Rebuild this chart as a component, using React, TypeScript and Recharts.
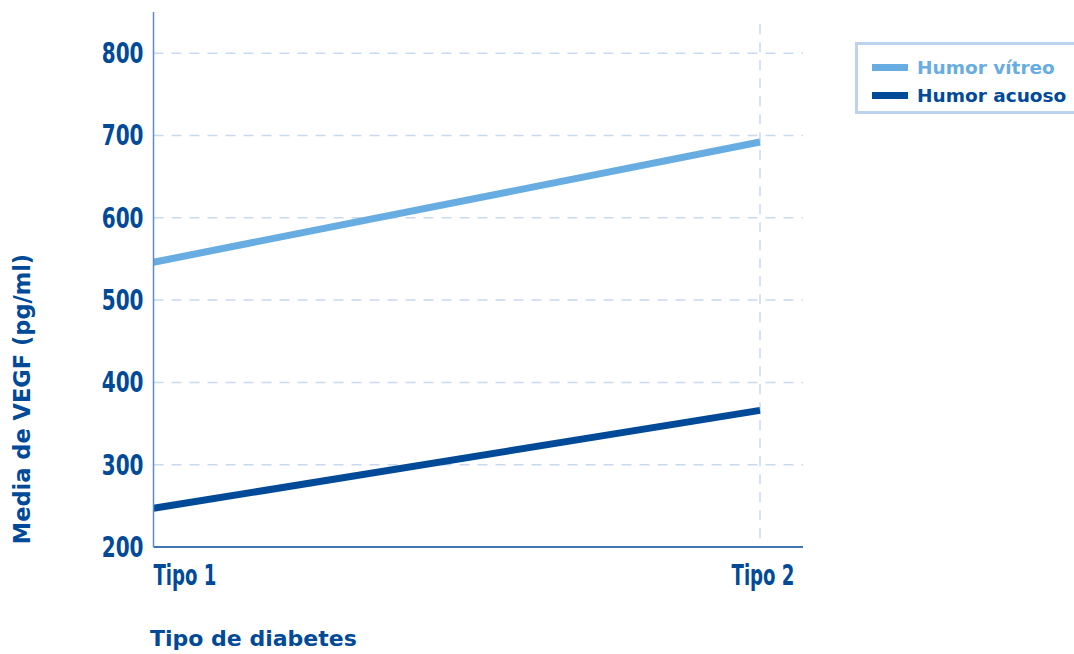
import React from 'react';
import { LineChart, Line, XAxis, YAxis, CartesianGrid, Legend, ReferenceLine } from 'recharts';

const categories = ['Tipo 1', 'Tipo 2'];
const vitreo = [546, 692];
const acuoso = [247, 366];
const yTicks = [200, 300, 400, 500, 600, 700, 800];

const data = categories.map((c, i) => ({ tipo: c, vitreo: vitreo[i], acuoso: acuoso[i] }));

const DARK = '#004a98';
const LIGHT = '#68ade1';
const GRID = '#c9d9f0';
const NARROW = '"DejaVu Sans Condensed", "DejaVu Sans", sans-serif';
const WIDE = '"DejaVu Sans", Verdana, sans-serif';
const SQUEEZE = 0.78;
const SQUEEZE_X = 0.72;

const XTick = (props: any) => {
  const { x, y, payload, index } = props;
  const first = index === 0;
  const tx = first ? x : x + 3;
  return (
    <g transform={`translate(${tx},${y + 38}) scale(${SQUEEZE_X},1)`}>
      <text
        x={0}
        y={0}
        textAnchor={first ? 'start' : 'middle'}
        fill={DARK}
        fontFamily={NARROW}
        fontWeight="bold"
        fontSize={28}
      >
        {payload.value}
      </text>
    </g>
  );
};

const YTick = (props: any) => {
  const { x, y, payload } = props;
  return (
    <g transform={`translate(${x},${y + 10}) scale(${SQUEEZE},1)`}>
      <text
        x={0}
        y={0}
        textAnchor="end"
        fill={DARK}
        fontFamily={NARROW}
        fontWeight="bold"
        fontSize={28.5}
      >
        {payload.value}
      </text>
    </g>
  );
};

const LegendContent = () => {
  const items = [
    { label: 'Humor vítreo', color: LIGHT },
    { label: 'Humor acuoso', color: DARK },
  ];
  return (
    <div
      style={{
        width: 222,
        height: 72,
        border: '3px solid #bcd2f0',
        boxSizing: 'border-box',
        paddingTop: 8,
        paddingLeft: 14,
        background: '#fff',
      }}
    >
      {items.map((it) => (
        <div key={it.label} style={{ display: 'flex', alignItems: 'center', height: 28 }}>
          <div style={{ width: 36, height: 7, background: it.color, marginRight: 9 }} />
          <span
            style={{
              color: it.color,
              fontFamily: WIDE,
              fontWeight: 'bold',
              fontSize: 18.5,
              whiteSpace: 'nowrap',
            }}
          >
            {it.label}
          </span>
        </div>
      ))}
    </div>
  );
};

export default function App() {
  return (
    <div style={{ position: 'absolute', left: 0, top: 0, width: 1074, height: 654, background: '#fff' }}>
      <LineChart
        width={1074}
        height={654}
        data={data}
        margin={{ top: 12, right: 271, bottom: 0, left: 0 }}
      >
        <CartesianGrid
          vertical={false}
          stroke={GRID}
          strokeWidth={1.5}
          strokeDasharray="10 8"
          horizontalValues={[300, 400, 500, 600, 700, 800]}
        />
        <ReferenceLine
          segment={[{ x: 'Tipo 2', y: 835 }, { x: 'Tipo 2', y: 200 }]}
          stroke={GRID}
          strokeWidth={1.5}
          strokeDasharray="10 8"
          ifOverflow="visible"
        />
        <XAxis
          dataKey="tipo"
          padding={{ left: 0, right: 43 }}
          axisLine={{ stroke: DARK, strokeWidth: 1.5 }}
          tickLine={false}
          tick={<XTick />}
          interval={0}
          tickSize={0}
          tickMargin={0}
          height={107}
        />
        <YAxis
          domain={[200, 850]}
          ticks={yTicks}
          width={153.5}
          axisLine={{ stroke: '#5f8dc6', strokeWidth: 1.5 }}
          tickLine={false}
          tick={<YTick />}
          tickSize={0}
          tickMargin={10}
          interval={0}
        />
        <Legend
          layout="horizontal"
          verticalAlign="middle"
          align="center"
          content={<LegendContent />}
          wrapperStyle={{ position: 'absolute', left: 855, top: 42, width: 222 }}
        />
        <Line
          type="linear"
          dataKey="vitreo"
          stroke={LIGHT}
          strokeWidth={7}
          dot={false}
          activeDot={false}
          isAnimationActive={false}
        />
        <Line
          type="linear"
          dataKey="acuoso"
          stroke={DARK}
          strokeWidth={7}
          dot={false}
          activeDot={false}
          isAnimationActive={false}
        />
        <text
          x={150}
          y={646}
          fill={DARK}
          fontFamily={WIDE}
          fontWeight="bold"
          fontSize={22}
        >
          Tipo de diabetes
        </text>
        <text
          x={30}
          y={399}
          transform="rotate(-90 30 399)"
          textAnchor="middle"
          fill={DARK}
          fontFamily={WIDE}
          fontWeight="bold"
          fontSize={22.5}
        >
          Media de VEGF (pg/ml)
        </text>
      </LineChart>
    </div>
  );
}
